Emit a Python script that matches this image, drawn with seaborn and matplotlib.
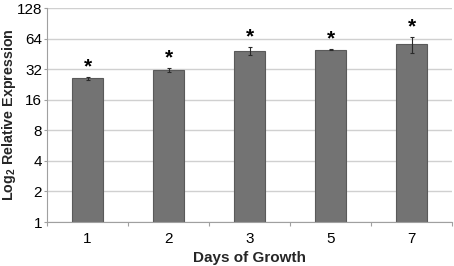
import matplotlib
matplotlib.use("Agg")
import matplotlib.pyplot as plt
import seaborn as sns
import pandas as pd
import numpy as np
from matplotlib.ticker import FixedLocator, FixedFormatter, NullLocator

days = ["1", "2", "3", "5", "7"]
expression = [26.1, 31.5, 48.5, 49.5, 56.0]
err_low = [0.8, 1.2, 4.5, 0.6, 9.5]
err_high = [0.8, 1.2, 4.5, 0.6, 10.5]
yticks = [1, 2, 4, 8, 16, 32, 64, 128]

sns.set_theme(style="white")
plt.rcParams['font.family'] = ['Liberation Sans', 'DejaVu Sans']
plt.rcParams['mathtext.fontset'] = 'custom'
plt.rcParams['mathtext.rm'] = 'Liberation Sans:bold'
plt.rcParams['mathtext.bf'] = 'Liberation Sans:bold'
plt.rcParams['mathtext.default'] = 'bf'

df = pd.DataFrame({"day": days, "expr": expression})

fig = plt.figure(figsize=(4.54, 2.66), dpi=100)
ax = fig.add_axes([47/454, 44/266, 405/454, 214/266])

ax.set_yscale('log', base=2)
sns.barplot(data=df, x="day", y="expr", ax=ax, color="#737373", width=0.385,
            edgecolor="#5a5a5a", linewidth=0.8, errorbar=None, saturation=1)

xs = np.arange(len(days))
ax.errorbar(xs, expression, yerr=[err_low, err_high], fmt='none',
            ecolor="#2a2a2a", elinewidth=0.8, capsize=1.2, capthick=0.8, zorder=5)

for x, v, eh in zip(xs, expression, err_high):
    ax.text(x, (v + eh) * 1.02, "*", ha='center', va='bottom', fontsize=15,
            fontweight='bold', color='black')

ax.set_ylim(1, 128)
ax.set_xlim(-0.5, len(days) - 0.5)
ax.yaxis.set_major_locator(FixedLocator(yticks))
ax.yaxis.set_major_formatter(FixedFormatter([str(t) for t in yticks]))
ax.yaxis.set_minor_locator(NullLocator())
ax.grid(axis='y', color="#d0d0d0", linewidth=1.0)
ax.set_axisbelow(True)

ax.set_xticks(np.arange(-0.5, len(days), 1.0), minor=True)
ax.tick_params(axis='x', which='major', length=0, labelsize=11, pad=7, colors='black')
ax.tick_params(axis='x', which='minor', length=3, color="#a0a0a0", width=0.8, bottom=True)
ax.tick_params(axis='y', which='major', length=2.5, color="#a0a0a0", width=0.8, left=True,
               labelsize=11, pad=1, labelcolor='black')

for s in ['top', 'right']:
    ax.spines[s].set_visible(False)
ax.spines['left'].set_color("#a0a0a0")
ax.spines['bottom'].set_color("#a0a0a0")
ax.spines['left'].set_linewidth(0.8)
ax.spines['bottom'].set_linewidth(0.8)

ax.set_xlabel("Days of Growth", fontsize=11, fontweight='bold', labelpad=4)
ax.set_ylabel(r"Log$_2$ Relative Expression", fontsize=10.3, fontweight='bold')
ax.yaxis.set_label_coords(-0.071, 0.5)

fig.savefig("out.png", dpi=100)
